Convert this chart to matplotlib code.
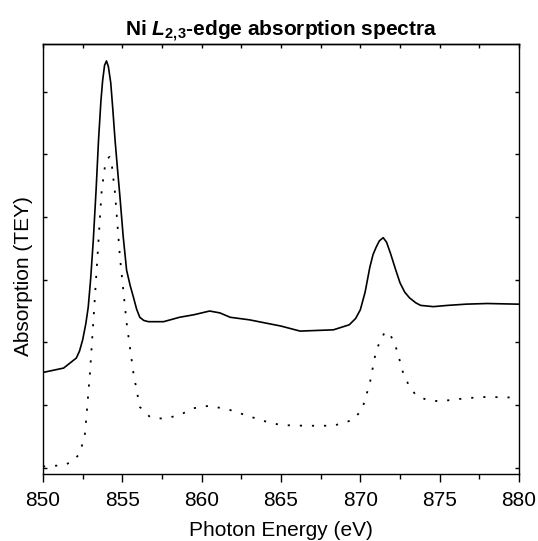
import matplotlib
matplotlib.use("Agg")
import matplotlib.pyplot as plt
import numpy as np

plt.rcParams['font.family'] = ['Liberation Sans', 'DejaVu Sans']
plt.rcParams['mathtext.fontset'] = 'custom'
plt.rcParams['mathtext.rm'] = 'Liberation Sans:bold'
plt.rcParams['mathtext.it'] = 'Liberation Sans:bold:italic'
plt.rcParams['mathtext.bf'] = 'Liberation Sans:bold'

# Solid spectrum (energy in eV, absorption in arbitrary units)
solid_energy = [850.0, 851.3, 852.1, 852.3, 852.5, 852.7, 852.85, 853.0, 853.17, 853.35,
                853.5, 853.65, 853.76, 853.88, 854.0, 854.12, 854.27, 854.4, 854.54, 854.7,
                854.85, 855.05, 855.27, 855.5, 855.7, 855.9, 856.1, 856.35, 856.64, 857.6,
                858.6, 859.5, 860.5, 861.15, 861.8, 863.0, 864.0, 865.0, 866.2, 868.3,
                869.3, 869.7, 870.0, 870.3, 870.6, 870.8, 871.0, 871.2, 871.44, 871.65,
                871.9, 872.2, 872.5, 872.8, 873.1, 873.5, 873.8, 874.6, 875.5, 876.7,
                878.0, 879.85, 880.0]
solid_values = [1.52, 1.59, 1.75, 1.86, 2.04, 2.30, 2.56, 3.00, 3.63, 4.45,
                5.23, 5.85, 6.18, 6.42, 6.49, 6.40, 6.14, 5.72, 5.23, 4.75,
                4.32, 3.70, 3.15, 2.90, 2.72, 2.53, 2.40, 2.35, 2.33, 2.33,
                2.40, 2.44, 2.50, 2.47, 2.40, 2.36, 2.31, 2.26, 2.18, 2.20,
                2.28, 2.38, 2.52, 2.80, 3.20, 3.40, 3.52, 3.62, 3.67, 3.60,
                3.42, 3.18, 2.95, 2.80, 2.71, 2.63, 2.59, 2.57, 2.59, 2.61,
                2.62, 2.61, 2.61]

# Dotted spectrum
dotted_energy = [850.0, 850.65, 851.3, 851.87, 852.33, 852.65, 852.96, 853.23, 853.5, 853.7,
                 853.9, 854.05, 854.2, 854.35, 854.54, 854.85, 855.27, 855.7, 856.1, 856.74,
                 857.6, 858.6, 859.5, 860.5, 861.8, 863.0, 864.0, 865.0, 866.5, 868.3,
                 869.5, 870.1, 870.6, 871.0, 871.55, 871.9, 872.3, 872.7, 873.1, 873.5,
                 874.2, 875.0, 876.7, 877.96, 879.6, 880.0]
dotted_values = [0.02, 0.03, 0.04, 0.10, 0.23, 0.55, 1.51, 2.56, 3.63, 4.43,
                 4.80, 4.93, 4.96, 4.80, 4.38, 3.36, 2.31, 1.51, 0.97, 0.81,
                 0.78, 0.84, 0.95, 0.99, 0.92, 0.82, 0.74, 0.68, 0.67, 0.67,
                 0.76, 0.92, 1.35, 1.88, 2.17, 2.12, 1.88, 1.51, 1.29, 1.16,
                 1.08, 1.06, 1.11, 1.13, 1.12, 1.12]

x_ticks = [850, 855, 860, 865, 870, 875, 880]
y_ticks = [0, 1, 2, 3, 4, 5, 6]

fig = plt.figure(figsize=(5.38, 5.41), dpi=100)
ax = fig.add_axes([43/538, 1 - 474/541, 476/538, 430/541])

ax.plot(solid_energy, solid_values, color='black', lw=1.2, solid_joinstyle='round')
ax.plot(dotted_energy, dotted_values, color='black', lw=1.3, linestyle=(0, (1.2, 5.5)))

ax.set_xlim(850, 880)
ax.set_ylim(-0.1, 6.76)
ax.set_xticks(x_ticks)
ax.set_xticks(np.arange(852.5, 880, 5), minor=True)
ax.set_yticks(y_ticks)
ax.set_yticklabels([])

# bottom ticks point outward
ax.tick_params(axis='x', which='both', direction='out', top=False, width=1.0)
ax.tick_params(axis='x', which='major', length=6, labelsize=15, pad=6.5)
ax.tick_params(axis='x', which='minor', length=3.5)
# left/right ticks point inward
ax.tick_params(axis='y', which='both', direction='in', left=True, right=True,
               length=3, width=1.0)

# top ticks point inward
top = ax.secondary_xaxis('top')
top.set_xticks(x_ticks)
top.set_xticks(np.arange(852.5, 880, 5), minor=True)
top.set_xticklabels([])
top.tick_params(axis='x', which='both', direction='in', length=3, width=1.0)

for s in ax.spines.values():
    s.set_linewidth(1.0)
top.spines['top'].set_linewidth(1.0)

ax.set_xlabel('Photon Energy (eV)', fontsize=15, labelpad=8)
ax.set_ylabel('Absorption (TEY)', fontsize=15)
ax.yaxis.set_label_coords(-0.02, 0.46)
ax.set_title(r'Ni $L_{2,\!3}$-edge absorption spectra', fontsize=15, fontweight='bold', pad=5)

fig.savefig('out.png', dpi=100)
